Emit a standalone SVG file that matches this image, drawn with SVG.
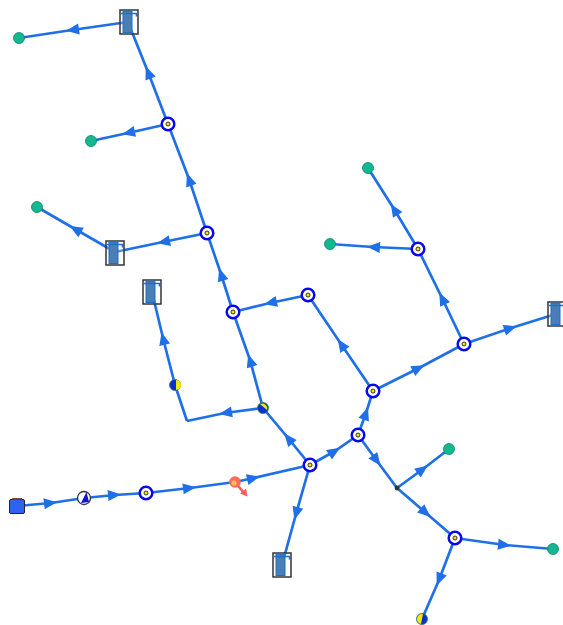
<svg xmlns="http://www.w3.org/2000/svg" width="563" height="625" viewBox="0 0 563 625">
<defs>
<style>
.e{fill:none;stroke:#1f6fe8;stroke-width:2.700;marker-mid:url(#a)}
.p{fill:none;stroke:#1f6fe8;stroke-width:2.700}
.ring{fill:#fff;stroke:#0808f0;stroke-width:2.500}
.dot{fill:#f5e800;stroke:#222;stroke-width:.9}
.term{fill:#14b890;stroke:#0f7f68;stroke-width:.8}
.box{fill:#fff;fill-opacity:.25;stroke:#333;stroke-width:1.500}
.bar{fill:#4a7fb5;stroke:#1f6fc8;stroke-width:1}
.cap{fill:none;stroke:#1f6fc8;stroke-width:1.600}
</style>
<marker id="a" markerUnits="userSpaceOnUse" markerWidth="16" markerHeight="16" refX="7" refY="7" orient="auto" overflow="visible">
<path d="M0 1.500 L13 7 L0 12.500Z" fill="#1f6fe8"/>
</marker>
<g id="station">
<rect class="box" x="-9" y="-12" width="18" height="24"/>
<rect class="bar" x="-6" y="-11" width="9" height="21.500"/>
<path class="cap" d="M-8-8.500H7.500V-5.500"/>
</g>
<g id="junction">
<circle class="ring" r="6.300"/>
<circle class="dot" r="2"/>
</g>
</defs>
<g id="connectors">
<path class="e" d="M17 506L51 503L84 498"/>
<path class="e" d="M84 498L115 495L146 493"/>
<path class="e" d="M146 493L190 488L235 482"/>
<path class="e" d="M235 482L254 478L310 465"/>
<path class="e" d="M310 465L288 438L263 408"/>
<path class="e" d="M263 408L250 360L233 312"/>
<path class="e" d="M233 312L221 274L207 233"/>
<path class="e" d="M207 233L189 179L168 124"/>
<path class="e" d="M168 124L148 72L128 22"/>
<path class="e" d="M128 22L72 30L19 38"/>
<path class="e" d="M168 124L128 133L91 141"/>
<path class="e" d="M207 233L163 242L115 252"/>
<path class="e" d="M115 252L75 229L37 207"/>
<path class="e" d="M263 408L225 413L187 421"/>
<path class="p" d="M187 421L175 385"/>
<path class="e" d="M175 385L163 338L152 292"/>
<path class="e" d="M310 465L335 451L358 435"/>
<path class="e" d="M358 435L366 413L373 391"/>
<path class="e" d="M373 391L341 344L308 295"/>
<path class="e" d="M308 295L270 303L233 312"/>
<path class="e" d="M373 391L419 368L464 344"/>
<path class="e" d="M464 344L442 298L418 249"/>
<path class="e" d="M418 249L394 209L368 168"/>
<path class="e" d="M418 249L373 247L330 244"/>
<path class="e" d="M464 344L511 328L556 314"/>
<path class="e" d="M358 435L377 461L397 488"/>
<path class="e" d="M397 488L423 469L449 449"/>
<path class="e" d="M397 488L426 513L455 538"/>
<path class="e" d="M455 538L505 545L553 549"/>
<path class="e" d="M455 538L439 580L422 619"/>
<path class="e" d="M310 465L296 514L282 565"/>
</g>
<g id="source">
<rect x="9.500" y="499.500" width="15" height="14" rx="1.500" fill="#2f62f0" stroke="#222" stroke-width="1"/>
<path d="M12 498.800H22" stroke="#8a4a40" stroke-width="1.600"/>
</g>
<g id="valve1">
<circle cx="84" cy="498" r="6.500" fill="#fff" stroke="#333" stroke-width="1.300"/>
<path d="M81 503L86.500 492L89 502Z" fill="#1212d8"/>
</g>
<g id="j1"><use href="#junction" x="146" y="493"/></g>
<g id="leak">
<path d="M235 482L244 493" stroke="#ff5a5a" stroke-width="2.600"/>
<path d="M240 493.500L246 488.500L247.500 496.500Z" fill="#ff5a5a"/>
<circle cx="235" cy="482" r="5.800" fill="#ff6a5a"/>
<circle cx="234" cy="483" r="2.600" fill="#f0c060"/>
</g>
<g id="j2"><use href="#junction" x="310" y="465"/></g>
<g id="j3"><use href="#junction" x="358" y="435"/></g>
<g id="j4"><use href="#junction" x="373" y="391"/></g>
<g id="j5"><use href="#junction" x="464" y="344"/></g>
<g id="j6"><use href="#junction" x="418" y="249"/></g>
<g id="j7"><use href="#junction" x="308" y="295"/></g>
<g id="j8"><use href="#junction" x="233" y="312"/></g>
<g id="j9"><use href="#junction" x="207" y="233"/></g>
<g id="j10"><use href="#junction" x="168" y="124"/></g>
<g id="j11"><use href="#junction" x="455" y="538"/></g>
<g id="split"><circle cx="397" cy="488" r="2.400" fill="#333"/></g>
<g id="half1">
<circle cx="263" cy="408" r="5.500" fill="#0a2fd0" stroke="#2a7f60" stroke-width=".8"/>
<path d="M260 404A5 5 0 0 1 267 410Z" fill="#f5e800"/>
</g>
<g id="half2">
<circle cx="175" cy="385" r="5.500" fill="#0a2fd0" stroke="#2a7f60" stroke-width=".8"/>
<path d="M176 380A5 5 0 0 1 176 390Z" fill="#f5e800"/>
</g>
<g id="half3">
<circle cx="422" cy="619" r="5.500" fill="#0a2fd0" stroke="#2a7f60" stroke-width=".8"/>
<path d="M423 614A5 5 0 0 0 421 624Z" fill="#f5e800"/>
</g>
<g id="t1"><circle class="term" cx="19" cy="38" r="5.500"/></g>
<g id="t2"><circle class="term" cx="91" cy="141" r="5.500"/></g>
<g id="t3"><circle class="term" cx="37" cy="207" r="5.500"/></g>
<g id="t4"><circle class="term" cx="368" cy="168" r="5.500"/></g>
<g id="t5"><circle class="term" cx="330" cy="244" r="5.500"/></g>
<g id="t6"><circle class="term" cx="449" cy="449" r="5.500"/></g>
<g id="t7"><circle class="term" cx="553" cy="549" r="5.500"/></g>
<g id="s1"><use href="#station" x="129" y="22"/></g>
<g id="s2"><use href="#station" x="115" y="253"/></g>
<g id="s3"><use href="#station" x="152" y="292"/></g>
<g id="s4"><use href="#station" x="557" y="314"/></g>
<g id="s5"><use href="#station" x="282" y="565"/></g>
</svg>
